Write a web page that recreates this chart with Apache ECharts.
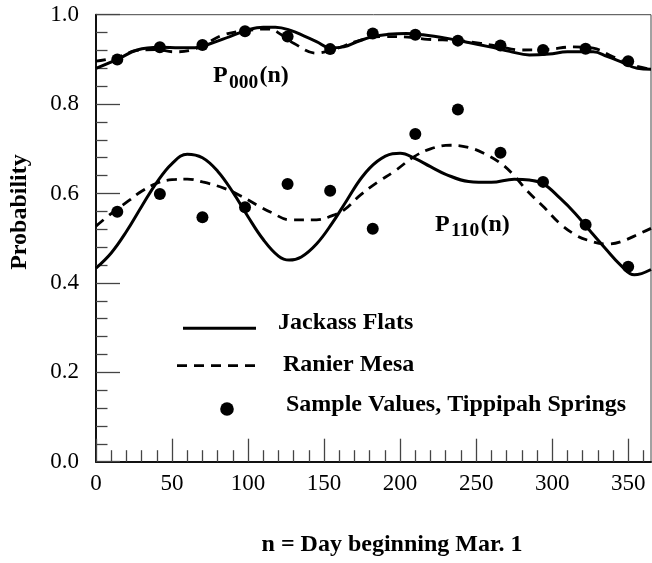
<!DOCTYPE html>
<html>
<head>
<meta charset="utf-8">
<script src="https://cdn.jsdelivr.net/npm/echarts@6/dist/echarts.min.js"></script>
<style>html,body{margin:0;padding:0;background:#fff}#c{width:652px;height:563px}</style>
</head>
<body>
<div id="c"></div>
<script>
// Sample days (every 28 days) and sample values, Tippipah Springs
var sampleDays = [14, 42, 70, 98, 126, 154, 182, 210, 238, 266, 294, 322, 350];
var p000Sample = [0.900, 0.927, 0.932, 0.963, 0.951, 0.923, 0.958, 0.955, 0.942, 0.931, 0.921, 0.924, 0.896];
var p110Sample = [0.559, 0.599, 0.547, 0.569, 0.621, 0.606, 0.521, 0.733, 0.788, 0.691, 0.626, 0.530, 0.436];

// Jackass Flats P000(n)
var jfP000Days = [0, 14, 27, 42, 55, 65, 75, 88, 100, 110, 118, 128, 137, 145, 154, 163, 172, 182, 192, 204, 215, 231, 245, 259, 272, 285, 298, 310, 327, 336, 345, 356, 365];
var jfP000Vals = [0.880, 0.900, 0.921, 0.927, 0.926, 0.926, 0.935, 0.951, 0.966, 0.972, 0.972, 0.965, 0.952, 0.940, 0.926, 0.928, 0.940, 0.951, 0.956, 0.958, 0.955, 0.947, 0.938, 0.928, 0.918, 0.910, 0.912, 0.917, 0.917, 0.907, 0.895, 0.880, 0.878];

// Ranier Mesa P000(n)
var rmP000Days = [0, 14, 27, 40, 51, 62, 72, 84, 100, 114, 122, 130, 145, 154, 163, 171, 188, 205, 218, 238, 253, 265, 279, 296, 314, 327, 340, 353, 365];
var rmP000Vals = [0.896, 0.905, 0.920, 0.922, 0.917, 0.920, 0.935, 0.955, 0.965, 0.968, 0.955, 0.936, 0.914, 0.920, 0.930, 0.940, 0.951, 0.950, 0.945, 0.942, 0.936, 0.929, 0.921, 0.922, 0.928, 0.925, 0.906, 0.887, 0.878];

// Jackass Flats P110(n)
var jfP110Days = [0, 10, 20, 30, 40, 50, 60, 70, 80, 90, 100, 110, 120, 127, 135, 145, 155, 165, 175, 185, 195, 200, 210, 220, 230, 245, 260, 275, 285, 294, 305, 315, 325, 335, 345, 354, 365];
var jfP110Vals = [0.433, 0.467, 0.515, 0.571, 0.625, 0.667, 0.688, 0.680, 0.650, 0.603, 0.548, 0.497, 0.460, 0.451, 0.458, 0.487, 0.532, 0.585, 0.637, 0.672, 0.689, 0.690, 0.678, 0.660, 0.643, 0.627, 0.625, 0.632, 0.630, 0.622, 0.590, 0.556, 0.516, 0.477, 0.440, 0.418, 0.430];

// Ranier Mesa P110(n)
var rmP110Days = [0, 10, 22, 30, 40, 50, 60, 70, 84, 95, 106, 115, 128, 145, 155, 163, 174, 185, 196, 209, 220, 233, 245, 255, 266, 275, 283, 295, 305, 315, 323, 336, 345, 358, 365];
var rmP110Vals = [0.527, 0.555, 0.585, 0.605, 0.623, 0.631, 0.632, 0.626, 0.612, 0.595, 0.574, 0.558, 0.541, 0.541, 0.550, 0.563, 0.597, 0.625, 0.649, 0.682, 0.700, 0.708, 0.703, 0.690, 0.668, 0.640, 0.608, 0.568, 0.533, 0.508, 0.496, 0.487, 0.492, 0.511, 0.522];

// Tick labels
var xMajorTicks = [0, 50, 100, 150, 200, 250, 300, 350];
var xMinorTicks = [10, 20, 30, 40, 60, 70, 80, 90, 110, 120, 130, 140, 160, 170, 180, 190, 210, 220, 230, 240, 260, 270, 280, 290, 310, 320, 330, 340, 360];

var legendNames = ['Jackass Flats', 'Ranier Mesa', 'Sample Values, Tippipah Springs'];
var xTitle = 'n = Day beginning Mar. 1';
var yTitle = 'Probability';

function pairs(xs, ys) { return xs.map(function (x, i) { return [x, ys[i]]; }); }

var SERIF = '"Liberation Serif", "Times New Roman", serif';
var tickStyle = { color: '#444', width: 1.3 };

var chart = echarts.init(document.getElementById('c'), null, { renderer: 'canvas' });
chart.setOption({
  animation: false,
  backgroundColor: '#fff',
  grid: { left: 96, right: 1, top: 14.7, bottom: 101.3, show: true, borderColor: '#444', borderWidth: 1, backgroundColor: 'transparent' },
  xAxis: [
    {
      type: 'value', min: 0, max: 365,
      axisLine: { lineStyle: { color: '#111', width: 2 } },
      axisTick: { show: true, inside: true, length: 23, customValues: xMajorTicks, lineStyle: tickStyle },
      axisLabel: { customValues: xMajorTicks, color: '#000', fontFamily: SERIF, fontSize: 23, margin: 11 },
      splitLine: { show: false }
    },
    {
      type: 'value', min: 0, max: 365, position: 'bottom',
      axisLine: { show: false },
      axisTick: { show: true, inside: true, length: 11.5, customValues: xMinorTicks, lineStyle: tickStyle },
      axisLabel: { show: false },
      splitLine: { show: false }
    }
  ],
  yAxis: {
    type: 'value', min: 0, max: 1, interval: 0.2,
    axisLine: { show: true, lineStyle: { color: '#111', width: 2 } },
    axisTick: { show: true, inside: true, length: 24, lineStyle: tickStyle },
    minorTick: { show: true, splitNumber: 5, length: 11.5, lineStyle: tickStyle },
    axisLabel: { color: '#000', fontFamily: SERIF, fontSize: 23, margin: 17, formatter: function (v) { return v.toFixed(1); } },
    splitLine: { show: false }, minorSplitLine: { show: false }
  },
  series: [
    { name: legendNames[0], type: 'line', xAxisIndex: 0, data: pairs(jfP000Days, jfP000Vals), smooth: 0.4, showSymbol: false, lineStyle: { color: '#000', width: 3 } },
    { name: legendNames[1], type: 'line', xAxisIndex: 0, data: pairs(rmP000Days, rmP000Vals), smooth: 0.4, showSymbol: false, lineStyle: { color: '#000', width: 2.8, type: [10, 7] } },
    { name: legendNames[0], type: 'line', xAxisIndex: 0, data: pairs(jfP110Days, jfP110Vals), smooth: 0.4, showSymbol: false, lineStyle: { color: '#000', width: 3 } },
    { name: legendNames[1], type: 'line', xAxisIndex: 0, data: pairs(rmP110Days, rmP110Vals), smooth: 0.4, showSymbol: false, lineStyle: { color: '#000', width: 2.8, type: [10, 7] } },
    { name: legendNames[2], type: 'scatter', xAxisIndex: 0, data: pairs(sampleDays, p000Sample), symbolSize: 12, itemStyle: { color: '#000', opacity: 1 }, z: 5 },
    { name: legendNames[2], type: 'scatter', xAxisIndex: 0, data: pairs(sampleDays, p110Sample), symbolSize: 12, itemStyle: { color: '#000', opacity: 1 }, z: 5 }
  ],
  graphic: [
    { type: 'text', x: 20, y: 212, rotation: Math.PI / 2, style: { text: yTitle, font: 'bold 24px ' + SERIF, fill: '#000', align: 'center', verticalAlign: 'middle' } },
    { type: 'text', x: 392, y: 545, style: { text: xTitle, font: 'bold 24px ' + SERIF, fill: '#000', align: 'center', verticalAlign: 'middle' } },
    // P000(n)
    { type: 'text', x: 213, y: 75.5, style: { text: 'P', font: 'bold 24px ' + SERIF, fill: '#000', align: 'left', verticalAlign: 'middle' } },
    { type: 'text', x: 229, y: 83, style: { text: '000', font: 'bold 19.5px ' + SERIF, fill: '#000', align: 'left', verticalAlign: 'middle' } },
    { type: 'text', x: 259.5, y: 75.5, style: { text: '(n)', font: 'bold 24px ' + SERIF, fill: '#000', align: 'left', verticalAlign: 'middle' } },
    // P110(n)
    { type: 'text', x: 435, y: 225, style: { text: 'P', font: 'bold 24px ' + SERIF, fill: '#000', align: 'left', verticalAlign: 'middle' } },
    { type: 'text', x: 451, y: 231, style: { text: '110', font: 'bold 19.5px ' + SERIF, fill: '#000', align: 'left', verticalAlign: 'middle' } },
    { type: 'text', x: 480.5, y: 225, style: { text: '(n)', font: 'bold 24px ' + SERIF, fill: '#000', align: 'left', verticalAlign: 'middle' } },
    // legend
    { type: 'line', shape: { x1: 183, y1: 328.3, x2: 256, y2: 328.3 }, style: { stroke: '#000', lineWidth: 3 } },
    { type: 'text', x: 278, y: 323, style: { text: legendNames[0], font: 'bold 24px ' + SERIF, fill: '#000', align: 'left', verticalAlign: 'middle' } },
    { type: 'line', shape: { x1: 177, y1: 365.7, x2: 256, y2: 365.7 }, style: { stroke: '#000', lineWidth: 2.8, lineDash: [10, 7] } },
    { type: 'text', x: 283, y: 364.5, style: { text: legendNames[1], font: 'bold 24px ' + SERIF, fill: '#000', align: 'left', verticalAlign: 'middle' } },
    { type: 'circle', shape: { cx: 227, cy: 409, r: 6.8 }, style: { fill: '#000' } },
    { type: 'text', x: 286, y: 404.5, style: { text: legendNames[2], font: 'bold 24px ' + SERIF, fill: '#000', align: 'left', verticalAlign: 'middle' } }
  ]
});
</script>
</body>
</html>
